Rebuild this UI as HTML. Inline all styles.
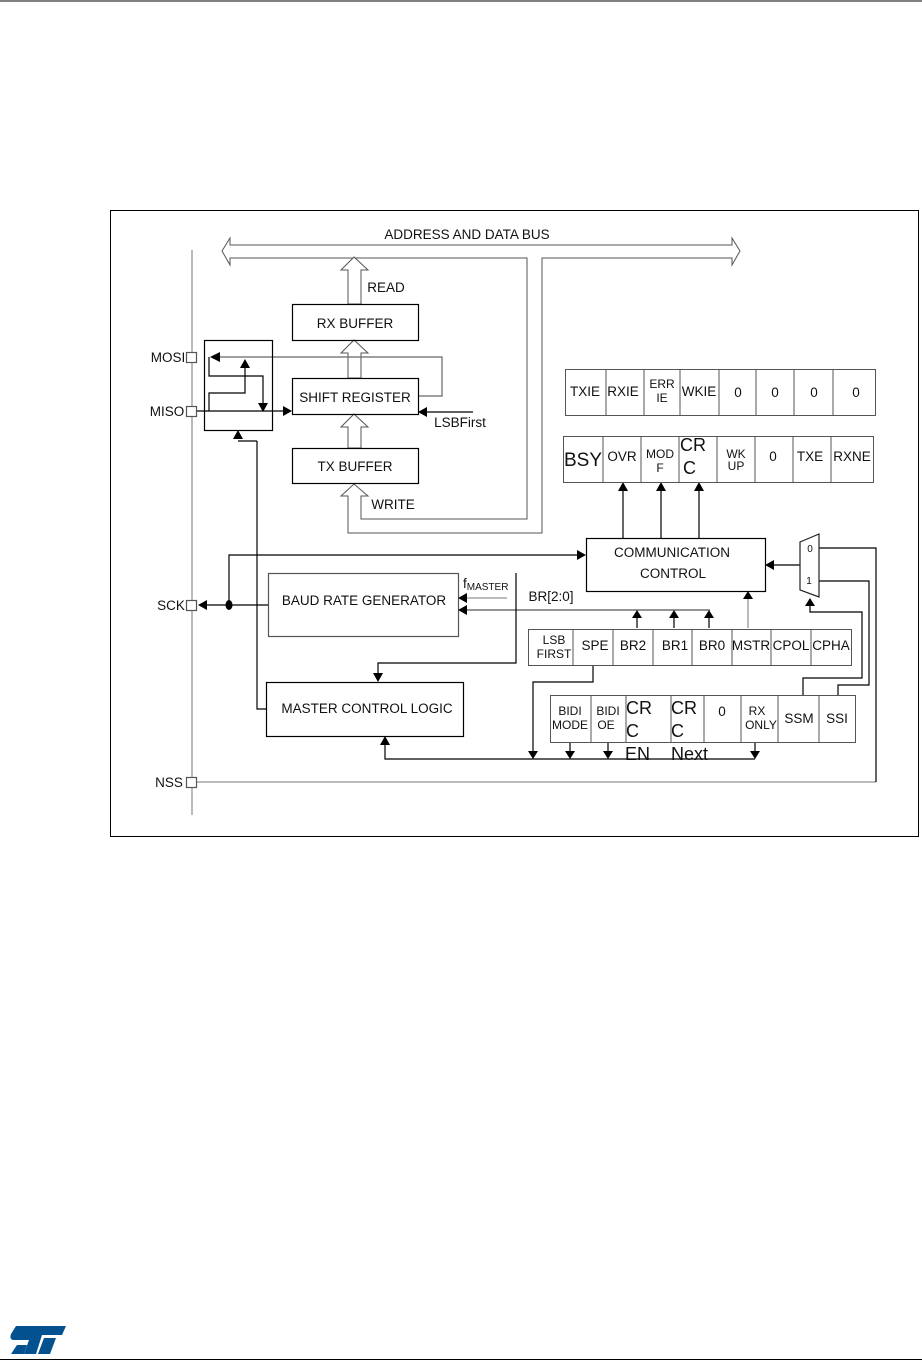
<!DOCTYPE html>
<html><head><meta charset="utf-8"><style>
html,body{margin:0;padding:0;background:#fff;}
svg{display:block;}
text{font-family:"Liberation Sans",Arial,sans-serif;fill:#111;}
</style></head><body>
<svg width="922" height="1361" viewBox="0 0 922 1361" xmlns="http://www.w3.org/2000/svg">
<line x1="0" y1="1" x2="922" y2="1" stroke="#000" stroke-width="1"/>
<line x1="0" y1="1359.5" x2="922" y2="1359.5" stroke="#000" stroke-width="1"/>
<g fill="#03528f">
<path d="M16 1326 L66 1326 L62 1335 L42 1335 L36 1354 L24 1354 L29 1340 L14 1340 Q9 1340 11 1334 Z"/>
<path d="M17 1345 L27 1345 L24 1354 L11 1354 Z"/>
<path d="M44 1338 L56 1338 L50 1354 L38 1354 Z"/>
</g>
<rect x="110.5" y="210.5" width="808" height="626" fill="none" stroke="#000"/>
<g stroke="#777" fill="none" stroke-width="1">
<line x1="192" y1="250" x2="192" y2="815"/>
<polygon points="222,251 230,238 230,245 732,245 732,238 740,251 732,265 732,258 542,258 542,533 348,533 348,496 341,496 354,484 368,496 361,496 361,519 527,519 527,258 230,258 230,265" fill="#fff" stroke="#555"/>
<polygon points="348,304 348,270 341,270 354,257 368,270 361,270 361,304" fill="#fff" stroke="#555"/>
<polygon points="348,378 348,353 341,353 354,340 368,353 361,353 361,378" fill="#fff" stroke="#555"/>
<polygon points="348,448 348,427 341,427 354,414 368,427 361,427 361,448" fill="#fff" stroke="#555"/>
<line x1="197" y1="782" x2="876" y2="782"/>
<line x1="458" y1="598" x2="507" y2="598"/>
<line x1="748" y1="628" x2="748" y2="596"/>
</g>
<g stroke="#000" fill="none" stroke-width="1.2">
<polyline points="418,396 442,396 442,357 212,357" stroke="#666"/>
<polyline points="257,441 257,709 266,709"/>
<line x1="238" y1="441" x2="257" y2="441"/>
<polyline points="876,782 876,548 819,548"/>
<polyline points="593,665 593,682 533,682 533,752"/>
<rect x="292.5" y="304.5" width="126" height="36"/>
<rect x="292.5" y="378.5" width="126" height="36"/>
<rect x="292.5" y="448.5" width="126" height="35"/>
<rect x="204.5" y="340.5" width="68" height="90"/>
<rect x="186.5" y="352.5" width="10" height="10" fill="#fff" stroke="#555"/>
<rect x="186.5" y="406.5" width="10" height="10" fill="#fff" stroke="#555"/>
<rect x="186.5" y="600.5" width="10" height="10" fill="#fff" stroke="#555"/>
<rect x="186.5" y="777.5" width="10" height="10" fill="#fff" stroke="#555"/>
<line x1="197" y1="411" x2="284" y2="411"/>
<polyline points="209,357 209,376 263,376 263,404"/>
<polyline points="209,411 209,393 245,393 245,366"/>
<line x1="425" y1="412" x2="473" y2="412"/>
<rect x="268.5" y="573.5" width="190" height="63" stroke="#555"/>
<rect x="266.5" y="682.5" width="197" height="54"/>
<rect x="586.5" y="538.5" width="179" height="53"/>
<line x1="205" y1="605" x2="268" y2="605"/>
<polyline points="229,605 229,555 577,555"/>
<line x1="466" y1="610" x2="710" y2="610" stroke="#555"/>
<polyline points="516,573 516,663 378,663 378,674"/>
<polyline points="385,744 385,759 755,759"/>
<line x1="623" y1="538" x2="623" y2="490"/>
<line x1="661" y1="538" x2="661" y2="490"/>
<line x1="699" y1="538" x2="699" y2="490"/>
<line x1="637" y1="628" x2="637" y2="618"/>
<line x1="674" y1="628" x2="674" y2="618"/>
<line x1="709" y1="628" x2="709" y2="618"/>
<line x1="800" y1="565" x2="773" y2="565"/>
<polyline points="819,581 869,581 869,685 838,685 838,695"/>
<polyline points="810,606 810,612 862,612 862,678 803,678 803,695"/>
<line x1="570" y1="742" x2="570" y2="752"/>
<line x1="608" y1="742" x2="608" y2="752"/>
<line x1="755" y1="742" x2="755" y2="752"/>
<polygon points="800,542 819,534 819,597 800,590" stroke="#222"/>
</g>
<g fill="#000">
<polygon points="210,357 220,352 220,362"/>
<polygon points="245,359 240,368 250,368"/>
<polygon points="263,412 258,403 268,403"/>
<polygon points="292,411 283,406 283,416"/>
<polygon points="418,412 427,407 427,417"/>
<polygon points="238,430 233,439 243,439"/>
<polygon points="198,605 207,600 207,610"/>
<ellipse cx="229" cy="605" rx="3.5" ry="5"/>
<polygon points="586,555 577,550 577,560"/>
<polygon points="458,598 467,593 467,603"/>
<polygon points="458,610 467,605 467,615"/>
<polygon points="378,682 373,673 383,673"/>
<polygon points="385,736 380,745 390,745"/>
<polygon points="623,482 618,491 628,491"/>
<polygon points="661,482 656,491 666,491"/>
<polygon points="699,482 694,491 704,491"/>
<polygon points="637,610 632,618 642,618"/>
<polygon points="674,610 669,618 679,618"/>
<polygon points="709,610 704,618 714,618"/>
<polygon points="748,591 743,599 753,599"/>
<polygon points="765,565 774,560 774,570"/>
<polygon points="810,598 805,606 815,606"/>
<polygon points="533,759 528,751 538,751"/>
<polygon points="570,759 565,751 575,751"/>
<polygon points="608,759 603,751 613,751"/>
<polygon points="755,759 750,751 760,751"/>
</g>
<g stroke="#555" fill="none" stroke-width="1">
<rect x="565.5" y="369.5" width="310" height="46"/>
<path d="M606 369v46M644 369v46M680 369v46M719 369v46M756 369v46M794 369v46M833 369v46"/>
<rect x="563.5" y="436.5" width="310" height="46"/>
<path d="M603 436v46M641 436v46M679 436v46M717 436v46M755 436v46M793 436v46M831 436v46"/>
<rect x="528.5" y="629.5" width="323" height="36"/>
<path d="M573 629v36M613 629v36M653 629v36M692 629v36M732 629v36M771 629v36M811 629v36"/>
<rect x="550.5" y="695.5" width="305" height="47"/>
<path d="M591 695v47M626 695v47M671 695v47M704 695v47M741 695v47M778 695v47M819 695v47"/>
</g>
<g font-size="13.5" text-anchor="middle">
<text x="467" y="239">ADDRESS AND DATA BUS</text>
<text x="386" y="292">READ</text>
<text x="355" y="328">RX BUFFER</text>
<text x="355" y="402">SHIFT REGISTER</text>
<text x="355" y="471">TX BUFFER</text>
<text x="393" y="509">WRITE</text>
<text x="460" y="427">LSBFirst</text>
<text x="168" y="362">MOSI</text>
<text x="167" y="416">MISO</text>
<text x="171" y="610">SCK</text>
<text x="169" y="787">NSS</text>
<text x="364" y="605">BAUD RATE GENERATOR</text>
<text x="367" y="713">MASTER CONTROL LOGIC</text>
<text x="672" y="557">COMMUNICATION</text>
<text x="673" y="578">CONTROL</text>
<text x="551" y="601">BR[2:0]</text>
<text x="463" y="588" text-anchor="start">f<tspan font-size="10" dy="2">MASTER</tspan></text>
<text x="585" y="396">TXIE</text>
<text x="623" y="396">RXIE</text>
<text x="662" y="388" font-size="12">ERR</text>
<text x="662" y="402" font-size="12">IE</text>
<text x="699" y="396">WKIE</text>
<text x="738" y="397">0</text>
<text x="775" y="397">0</text>
<text x="814" y="397">0</text>
<text x="856" y="397">0</text>
<text x="583" y="466" font-size="19">BSY</text>
<text x="622" y="461">OVR</text>
<text x="660" y="458" font-size="12">MOD</text>
<text x="660" y="472" font-size="12">F</text>
<text x="680" y="451" font-size="18" text-anchor="start">CR</text>
<text x="683" y="474" font-size="18" text-anchor="start">C</text>
<text x="736" y="458" font-size="12">WK</text>
<text x="736" y="470" font-size="12">UP</text>
<text x="773" y="461">0</text>
<text x="810" y="461">TXE</text>
<text x="852" y="461">RXNE</text>
<text x="554" y="644" font-size="12">LSB</text>
<text x="554" y="658" font-size="12">FIRST</text>
<text x="595" y="650">SPE</text>
<text x="633" y="650">BR2</text>
<text x="675" y="650">BR1</text>
<text x="712" y="650">BR0</text>
<text x="751" y="650">MSTR</text>
<text x="791" y="650">CPOL</text>
<text x="831" y="650">CPHA</text>
<text x="570" y="715" font-size="12">BIDI</text>
<text x="570" y="729" font-size="12">MODE</text>
<text x="608" y="715" font-size="12">BIDI</text>
<text x="606" y="729" font-size="12">OE</text>
<text x="626" y="714" font-size="18" text-anchor="start">CR</text>
<text x="626" y="737" font-size="18" text-anchor="start">C</text>
<text x="625" y="760" font-size="18" text-anchor="start">EN</text>
<text x="671" y="714" font-size="18" text-anchor="start">CR</text>
<text x="671" y="737" font-size="18" text-anchor="start">C</text>
<text x="671" y="760" font-size="18" text-anchor="start">Next</text>
<text x="722" y="716">0</text>
<text x="757" y="715" font-size="12">RX</text>
<text x="761" y="729" font-size="12">ONLY</text>
<text x="799" y="723">SSM</text>
<text x="837" y="723">SSI</text>
<text x="810" y="552" font-size="10" fill="#335">0</text>
<text x="809" y="584" font-size="10" fill="#335">1</text>
</g>
</svg>
</body></html>
